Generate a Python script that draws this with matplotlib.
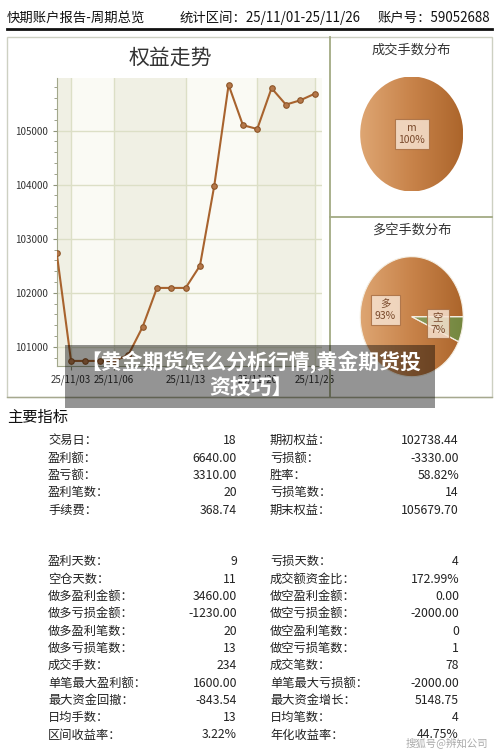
import matplotlib
matplotlib.use("Agg")
import matplotlib.pyplot as plt
import numpy as np
from matplotlib.patches import Rectangle
from matplotlib.lines import Line2D
from matplotlib.ticker import MultipleLocator
from matplotlib.colors import LinearSegmentedColormap

plt.rcParams['font.family'] = ['Noto Sans CJK SC', 'DejaVu Sans']

# ---- data ----
trade_dates = ['25/11/01', '25/11/03', '25/11/04', '25/11/05', '25/11/06', '25/11/07',
               '25/11/10', '25/11/11', '25/11/12', '25/11/13', '25/11/14', '25/11/17',
               '25/11/18', '25/11/19', '25/11/20', '25/11/21', '25/11/24', '25/11/25',
               '25/11/26']
equity = [102738, 100740, 100740, 100740, 100740, 100850, 101370, 102090, 102090,
          102090, 102500, 103980, 105845, 105100, 105030, 105785, 105480, 105560, 105680]
shown_dates = [1, 4, 9, 14, 18]

lots_names = ['m']
lots_values = [234]
side_names = ['多', '空']
side_values = [218, 16]

block1_left = ['交易日', '盈利额', '盈亏额', '盈利笔数', '手续费']
block1_left_vals = ['18', '6640.00', '3310.00', '20', '368.74']
block1_right = ['期初权益', '亏损额', '胜率', '亏损笔数', '期末权益']
block1_right_vals = ['102738.44', '-3330.00', '58.82%', '14', '105679.70']

block2_left = ['盈利天数', '空仓天数', '做多盈利金额', '做多亏损金额', '做多盈利笔数', '做多亏损笔数',
               '成交手数', '单笔最大盈利额', '最大资金回撤', '日均手数', '区间收益率']
block2_left_vals = ['9', '11', '3460.00', '-1230.00', '20', '13', '234', '1600.00',
                    '-843.54', '13', '3.22%']
block2_right = ['亏损天数', '成交额资金比', '做空盈利金额', '做空亏损金额', '做空盈利笔数', '做空亏损笔数',
                '成交笔数', '单笔最大亏损额', '最大资金增长', '日均笔数', '年化收益率']
block2_right_vals = ['4', '172.99%', '0.00', '-2000.00', '0', '1', '78', '-2000.00',
                     '5148.75', '4', '44.75%']

W, H = 500, 753
fig = plt.figure(figsize=(W / 100, H / 100), dpi=100)
fig.patch.set_facecolor('white')


def box(x0, y0, x1, y1):
    return [x0 / W, 1 - y1 / H, (x1 - x0) / W, (y1 - y0) / H]


def ftext(x, y, s, **kw):
    fig.text(x / W, 1 - y / H, s, **kw)


def fline(xs, ys, **kw):
    fig.add_artist(Line2D([x / W for x in xs], [1 - y / H for y in ys], **kw))


# header
ftext(7, 18, '快期账户报告-周期总览', fontsize=9.6, va='center', color='#111')
ftext(180, 18, '统计区间：25/11/01-25/11/26', fontsize=9.6, va='center', color='#111')
ftext(378, 18, '账户号：59052688', fontsize=9.6, va='center', color='#111')
fline([7, 492], [29, 29], color='#111', lw=2)

# panel frames
fig.add_artist(Rectangle((7 / W, 1 - 397 / H), 485 / W, 360 / H, transform=fig.transFigure,
                         fill=False, edgecolor='#cdd0c2', lw=1))
fline([330, 330], [37, 397], color='#a2aa84', lw=1.3)
fline([330, 492], [217, 217], color='#a2aa84', lw=1.3)
fline([7, 492], [397, 397], color='#a6a98f', lw=1)

# ---- equity line chart ----
ftext(170, 58, '权益走势', fontsize=15, ha='center', va='center', color='#333')
ax = fig.add_axes(box(56.7, 78.3, 321.7, 366))
x = np.arange(len(equity))
ax.set_xlim(0, 18.5)
ax.set_ylim(100646, 105967)
edges = [0] + shown_dates + [18.5]
for i in range(len(edges) - 1):
    ax.axvspan(edges[i], edges[i + 1], color='#f0f0e4' if i % 2 == 0 else '#fafaf4',
               lw=0, zorder=0)
ax.set_xticks(shown_dates)
ax.set_xticklabels([trade_dates[i] for i in shown_dates])
ax.set_yticks([101000, 102000, 103000, 104000, 105000])
ax.yaxis.set_minor_locator(MultipleLocator(200))
ax.grid(True, color='#dcdfc6', lw=1, zorder=1)
ax.set_axisbelow(True)
ax.plot(x, equity, color='#a8632e', lw=1.5, marker='o', markersize=4,
        markerfacecolor='#b5784a', markeredgecolor='#8d5528', markeredgewidth=0.8, zorder=3)
for s in ['top', 'right']:
    ax.spines[s].set_visible(False)
for s in ['left', 'bottom']:
    ax.spines[s].set_color('#a3a88c')
ax.tick_params(axis='both', which='major', labelsize=7, length=3, color='#8e937a',
               labelcolor='#333')
ax.tick_params(axis='y', which='minor', length=2, color='#8e937a')
ax.tick_params(axis='x', pad=3)

# ---- pies ----
orange = LinearSegmentedColormap.from_list('o', ['#dea673', '#c8834a', '#ac652b'])
green = LinearSegmentedColormap.from_list('g', ['#c2cc9c', '#8c9c5c', '#74873f'])
grad = np.linspace(0, 1, 256).reshape(1, -1)


def draw_pie(rect, names, values, cmaps):
    pax = fig.add_axes(rect)
    wedges, _ = pax.pie(values, startangle=0, counterclock=True,
                        wedgeprops=dict(linewidth=0.8 if len(values) > 1 else 0,
                                        edgecolor='#f4eee2'))
    pax.set_aspect('auto')
    pax.set_xlim(-1, 1)
    pax.set_ylim(-1, 1)
    pax.axis('off')
    total = float(sum(values))
    for w, name, v, cm in zip(wedges, names, values, cmaps):
        im = pax.imshow(grad, extent=(-1, 1, -1, 1), cmap=cm, aspect='auto', zorder=1)
        im.set_clip_path(w)
        w.set_facecolor('none')
        w.set_zorder(2)
        mid = np.deg2rad((w.theta1 + w.theta2) / 2)
        r = 0 if len(values) == 1 else 0.52
        pax.text(r * np.cos(mid), r * np.sin(mid), f'{name}\n{v / total * 100:.0f}%',
                 ha='center', va='center', fontsize=7.5, color='#7a4a2c', zorder=4,
                 linespacing=1.3,
                 bbox=dict(boxstyle='square,pad=0.35', facecolor='#f6e2d0', alpha=0.85,
                           edgecolor='#a86e42', lw=0.8))
    return pax


ftext(411.7, 50, '成交手数分布', fontsize=9.5, ha='center', va='center', color='#333')
draw_pie(box(360.2, 76.5, 463.2, 191.5), lots_names, lots_values, [orange])
ftext(411.7, 230.5, '多空手数分布', fontsize=9.5, ha='center', va='center', color='#333')
draw_pie(box(360.2, 256.7, 463.2, 376.7), side_names, side_values, [orange, green])

# ---- key metrics ----
ftext(7, 417.5, '主要指标', fontsize=11, va='center', color='#111')


def table(y0, step, ll, lv, rl, rv):
    for i in range(len(ll)):
        y = y0 + i * step
        ftext(48, y, ll[i] + '：', fontsize=8.8, va='center', color='#222')
        ftext(237, y, lv[i], fontsize=8.8, va='center', ha='right', color='#222')
        ftext(270, y, rl[i] + '：', fontsize=8.8, va='center', color='#222')
        ftext(459, y, rv[i], fontsize=8.8, va='center', ha='right', color='#222')


table(440.7, 17.35, block1_left, block1_left_vals, block1_right, block1_right_vals)
table(561.7, 17.33, block2_left, block2_left_vals, block2_right, block2_right_vals)

# ---- overlays ----
fig.add_artist(Rectangle((65 / W, 1 - 407.5 / H), 370 / W, 62.5 / H, transform=fig.transFigure,
                         facecolor='black', alpha=0.42, lw=0, zorder=5))
ftext(251, 361.5, '【黄金期货怎么分析行情,黄金期货投', fontsize=15, fontweight='bold',
      ha='center', va='center', color='white', zorder=6)
ftext(251, 387.5, '资技巧】', fontsize=15, fontweight='bold',
      ha='center', va='center', color='white', zorder=6)
ftext(447, 744, '搜狐号@辨知公司', fontsize=7.5, ha='center', va='center', color='#aaaaaa',
      zorder=6)

fig.savefig('out.png', dpi=100)
